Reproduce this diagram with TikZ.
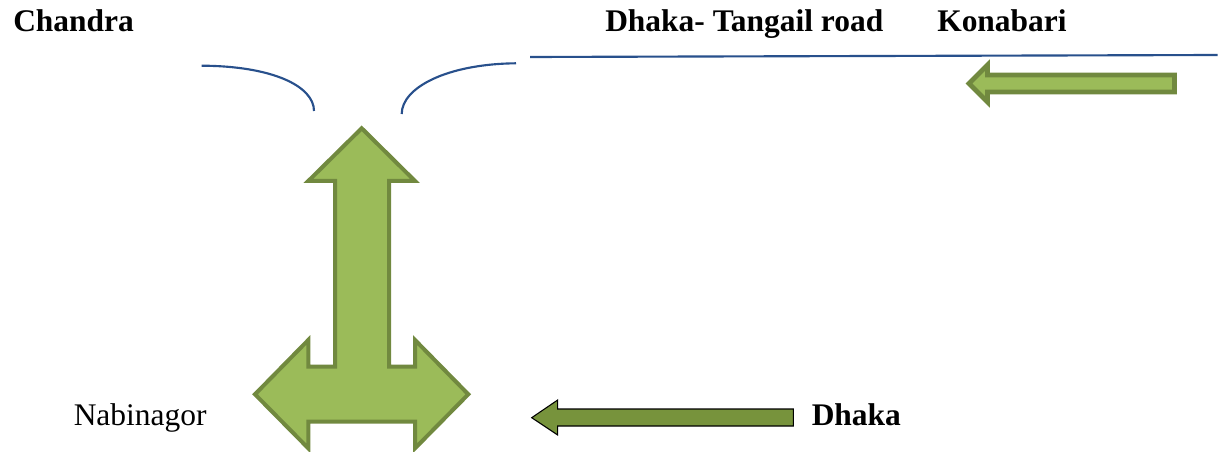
\documentclass[tikz,border=0pt]{standalone}
\usepackage{fontspec}
\setmainfont{Liberation Serif}[BoldFont={Liberation Serif Bold},ItalicFont={Liberation Serif Italic}]
\definecolor{lgreen}{HTML}{9BBB59}
\definecolor{dgreen}{HTML}{71893F}
\definecolor{mgreen}{HTML}{77933C}
\definecolor{roadblue}{RGB}{40,80,140}
\begin{document}
\begin{tikzpicture}[x=0.75pt,y=-0.75pt,
  lbl/.style={anchor=base west,inner sep=0pt,font=\fontsize{23.6}{28}\selectfont},
  blbl/.style={anchor=base west,inner sep=0pt,font=\fontsize{23.6}{28}\selectfont\bfseries},
  road/.style={draw=roadblue,line width=1.6pt},
  bigarrow/.style={fill=lgreen,draw=dgreen,line join=miter}]
\useasboundingbox (0,0) rectangle (1225,452);
% texts
\node[blbl] (chandra) at (13,31.7) {Chandra};
\node[blbl] (dtroad) at (605,31.7) {Dhaka- Tangail road};
\node[blbl] (konabari) at (937,31.7) {Konabari};
\node[lbl] (nabinagor) at (73.5,426) {Nabinagor};
\node[blbl] (dhaka) at (811.5,425.5) {Dhaka};
% roads
\draw[road] (201.7,65.7) .. controls (272,66) and (314,86) .. (314,111);
\draw[road] (401.7,114) .. controls (401.7,88) and (446,64) .. (516,63.3);
\draw[road] (530,57) -- (1217.7,55);
% three-way arrow
\draw[bigarrow,line width=3pt] (361.7,128.3) -- (415,181) -- (389,181) -- (389,366.7)
  -- (415,366.7) -- (415,340) -- (468.3,394.3) -- (415,448.3) -- (415,421.7)
  -- (308.3,421.7) -- (308.3,448.3) -- (255,394.3) -- (308.3,340) -- (308.3,366.7)
  -- (335,366.7) -- (335,181) -- (308.3,181) -- cycle;
% top right arrow
\draw[bigarrow,line width=3.5pt] (969,83.5) -- (987.5,65) -- (987.5,75) -- (1174.5,75)
  -- (1174.5,92) -- (987.5,92) -- (987.5,102) -- cycle;
% bottom arrow from Dhaka
\draw[fill=mgreen,draw=black,line width=0.8pt] (531.7,417.7) -- (557.7,400) -- (557.7,409)
  -- (793.3,409) -- (793.3,426) -- (557.7,426) -- (557.7,435) -- cycle;
\end{tikzpicture}
\end{document}
